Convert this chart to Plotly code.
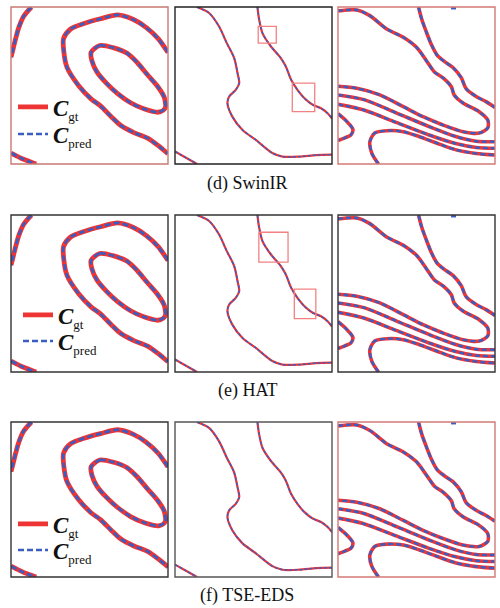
import plotly.graph_objects as go

RED = "#ee3434"
BLUE = "#3b5cc0"

# ---- panel 1 (left column) curves, units 0-100, y measured downward ----
P1_TOPLEFT = [(13, 0), (8, 6), (5, 13), (3, 20), (1.5, 26), (0, 32)]
P1_BOTLEFT = [(0, 93), (8, 97), (16, 100)]
P1_OUTER = [(100, 29), (93.6, 20), (86, 13), (78, 8), (68, 5), (57, 7.5), (46.5, 10.5),
            (38, 14), (33.5, 20), (33.6, 28), (35.7, 38.5), (43, 50), (51, 58.5), (57, 63),
            (64, 70), (70, 75.5), (78.3, 80), (87, 83.5), (94, 88.5), (100, 93.5)]
P1_INNER = [(51, 29), (56.5, 24.5), (65.5, 26), (74, 29.5), (80.5, 35.5), (86.8, 43),
            (93.3, 50.5), (97.6, 57.5), (98.2, 64.5), (94, 67), (85, 65), (76.2, 61),
            (67.7, 55), (61.2, 49), (54.8, 41.5), (51.6, 34.5), (51, 29)]

# ---- panel 2 (middle column) ----
P2_LEFT = [(14, 0), (21.7, 3.8), (28, 12.3), (33, 23), (37.7, 32.6), (39.8, 42), (40.9, 48.5),
           (38.7, 52.8), (34.5, 57), (33.4, 61.3), (36.6, 70), (43, 78.3), (51.5, 84.7),
           (62, 93), (68.5, 95.3), (79, 95.3), (90, 94.3), (100, 94)]
P2_BOTLEFT = [(0, 92), (7, 96), (14, 100)]
P2_RIGHT = [(52.5, 0), (53.6, 8), (55.7, 16.6), (61, 25), (67.4, 32.5), (70.6, 37.9),
            (74, 46.4), (78, 52.8), (82.3, 58), (87.7, 62.3), (93, 64.5), (97.2, 67.7), (100, 71)]

# ---- panel 3 (right column) ----
P3_U = [(0, 2.5), (12, 1.9), (20.3, 5.5), (31, 14), (41.6, 19.3), (50, 25.7), (56.3, 34.2),
        (61.4, 41.4), (66.9, 45.2), (72.2, 50.8), (74, 56), (79.6, 61.1), (89.9, 66.7),
        (95.4, 72), (95.4, 77), (89.9, 80.3), (79.6, 79.4), (66.9, 75.2), (54.2, 69.9),
        (41.6, 63.5), (26.6, 56), (12, 51.8), (0, 50.5)]
P3_TOPRIGHT = [(51.3, 0), (53.4, 8), (56.3, 16), (59.5, 24), (63, 30.5), (67.5, 34.5),
               (73.2, 38.5), (78.5, 45), (81.6, 52), (88, 57), (94.3, 60.3), (100, 64)]
P3_MID1 = [(0, 56), (16.5, 59), (37.7, 67.7), (58.9, 76.5), (75, 82.5), (88, 85.5), (100, 85.8)]
P3_MID2 = [(0, 62), (16, 65.5), (37, 73.5), (58, 81.5), (75, 87), (88, 89.5), (100, 90)]
P3_HOOK = [(25.8, 100), (21.5, 93), (20.3, 85.8), (23.4, 80.3), (31, 78.8), (41.6, 79.4),
           (51.9, 82.6), (62.7, 86.6), (75.3, 91), (88, 93.3), (100, 94.3)]
P3_SMALL = [(0, 68), (5.7, 73), (9.5, 78), (8.2, 81.5), (4.4, 83.3), (0, 85)]
P3_PRED_ONLY = [(72, 0.8), (77, 0.8)]

COL_CURVES = [
    [P1_TOPLEFT, P1_BOTLEFT, P1_OUTER, P1_INNER],
    [P2_LEFT, P2_BOTLEFT, P2_RIGHT],
    [P3_U, P3_TOPRIGHT, P3_MID1, P3_MID2, P3_HOOK, P3_SMALL],
]
COL_PRED_ONLY = [[], [], [P3_PRED_ONLY]]

CAPTIONS = ["(d) SwinIR", "(e) HAT", "(f) TSE-EDS"]
LEGEND_GT = "<b><i>C</i></b><sub><span style='font-size:13px'>gt</span></sub>"
LEGEND_PRED = "<b><i>C</i></b><sub><span style='font-size:13px'>pred</span></sub>"

# zoom boxes in the middle panel (rows 1 and 2)
ZOOM_BOXES = [
    [(53, 12.3, 64.5, 23), (74.7, 48.5, 89, 66.6)],
    [(53.4, 11, 72, 30), (76, 47.2, 89.7, 66)],
    [],
]

# ---- layout geometry (pixels) ----
W, H = 500, 608
COL_X = [(11, 168), (175, 332), (338, 495)]
ROW_Y = [(7, 164), (215, 372), (422, 577)]
CAPTION_Y = [183, 390, 595]
BORDER = [["#c87a72", "#222222", "#d27a74"],
          ["#333333", "#333333", "#333333"],
          ["#333333", "#555555", "#d27a74"]]
GT_W = [4.8, 2.2, 3.6]
PRED_W = [2.6, 1.4, 2.4]
PRED_DASH = ["6px,3px", "3px,2px", "5px,3px"]
# legend anchor (left x, centre y of the gt / pred entries) per row, in pixels
LEGEND_X = [13, 18, 13]
LEGEND_GT_Y = [107, 315, 524]
LEGEND_PRED_Y = [134, 341, 550]

fig = go.Figure()
layout = dict(width=W, height=H, margin=dict(l=0, r=0, t=0, b=0),
              paper_bgcolor="white", plot_bgcolor="white", shapes=[], annotations=[])

for r in range(3):
    lg_gt = "legend" if r == 0 else f"legend{2 * r + 1}"
    lg_pred = f"legend{2 * r + 2}"
    for c in range(3):
        k = r * 3 + c + 1
        xa = "x" if k == 1 else f"x{k}"
        ya = "y" if k == 1 else f"y{k}"
        x0, x1 = COL_X[c]
        y0, y1 = ROW_Y[r]
        layout["xaxis" if k == 1 else f"xaxis{k}"] = dict(
            domain=[x0 / W, x1 / W], range=[0, 100], visible=False, fixedrange=True, anchor=ya)
        layout["yaxis" if k == 1 else f"yaxis{k}"] = dict(
            domain=[1 - y1 / H, 1 - y0 / H], range=[100, 0], visible=False, fixedrange=True,
            anchor=xa)
        curves = COL_CURVES[c]
        for i, cv in enumerate(curves):
            show = (c == 0 and i == 0)
            fig.add_trace(go.Scatter(
                x=[p[0] for p in cv], y=[p[1] for p in cv], mode="lines",
                line=dict(color=RED, width=GT_W[c], shape="spline", smoothing=0.8),
                xaxis=xa, yaxis=ya, name=LEGEND_GT, showlegend=show,
                legend=lg_gt, hoverinfo="skip"))
        for i, cv in enumerate(curves + COL_PRED_ONLY[c]):
            show = (c == 0 and i == 0)
            fig.add_trace(go.Scatter(
                x=[p[0] for p in cv], y=[p[1] for p in cv], mode="lines",
                line=dict(color=BLUE, width=PRED_W[c], dash=PRED_DASH[c],
                          shape="spline", smoothing=0.8),
                xaxis=xa, yaxis=ya, name=LEGEND_PRED, showlegend=show,
                legend=lg_pred, hoverinfo="skip"))
        layout["shapes"].append(dict(type="rect", xref=f"{xa} domain", yref=f"{ya} domain",
                                     x0=0, x1=1, y0=0, y1=1,
                                     line=dict(color=BORDER[r][c], width=1.4)))
        if c == 1:
            for bx in ZOOM_BOXES[r]:
                layout["shapes"].append(dict(type="rect", xref=xa, yref=ya,
                                             x0=bx[0], y0=bx[1], x1=bx[2], y1=bx[3],
                                             line=dict(color="#f28282", width=1.3)))
    layout["annotations"].append(dict(
        text=CAPTIONS[r], xref="paper", yref="paper", x=247 / W, y=1 - CAPTION_Y[r] / H,
        xanchor="center", yanchor="middle", showarrow=False,
        font=dict(family="Liberation Serif", size=18, color="#111111")))
    for lg, ly in ((lg_gt, LEGEND_GT_Y[r]), (lg_pred, LEGEND_PRED_Y[r])):
        layout[lg] = dict(
            x=LEGEND_X[r] / W, y=1 - ly / H, xanchor="left", yanchor="middle",
            xref="paper", yref="paper",
            bgcolor="rgba(0,0,0,0)", borderwidth=0, itemwidth=30,
            font=dict(family="Liberation Serif", size=23, color="#111111"),
            tracegroupgap=0)

fig.update_layout(**layout)
fig.write_html("out.html", config={"displayModeBar": False},
               post_script="document.body.style.margin='0';document.body.style.padding='0';")
